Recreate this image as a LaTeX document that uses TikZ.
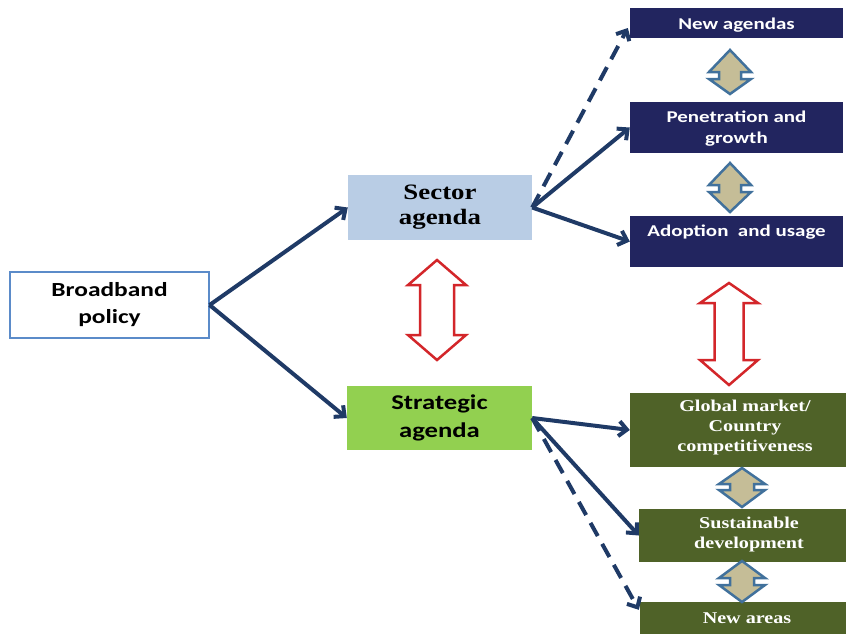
\documentclass[tikz,border=0pt]{standalone}
\usepackage{fontspec}
\usetikzlibrary{arrows.meta,calc}
\newfontfamily\sansf[FakeStretch=1.27]{Carlito}
\newfontfamily\serff[FakeStretch=1.22]{Liberation Serif}
\definecolor{navybox}{HTML}{22255F}
\definecolor{olivebox}{HTML}{4F6228}
\definecolor{sectorfill}{HTML}{B9CDE5}
\definecolor{stratfill}{HTML}{92D050}
\definecolor{connc}{HTML}{1F3A66}
\definecolor{bordblue}{HTML}{5B8BC9}
\definecolor{redarr}{HTML}{D3262A}
\definecolor{tanfill}{HTML}{C5BD97}
\definecolor{tanbord}{HTML}{41719C}
\newcommand\dblarr[8]{%
  \draw[#1] (#2,#3) -- (#2+#7,#4) -- (#2+#8,#4) -- (#2+#8,#5) -- (#2+#7,#5) -- (#2,#6)
    -- (#2-#7,#5) -- (#2-#8,#5) -- (#2-#8,#4) -- (#2-#7,#4) -- cycle;}
\tikzset{
  box/.style={rectangle, inner sep=0pt, align=center},
  navy/.style={box, fill=navybox, minimum width=213pt},
  olive/.style={box, fill=olivebox},
  navytext/.style={align=center, text=white, font=\sansf\bfseries\fontsize{16.5}{21}\selectfont, inner sep=0pt},
  olivetext/.style={align=center, text=white, font=\serff\bfseries\fontsize{16.5}{20}\selectfont, inner sep=0pt},
  conn/.style={draw=connc, line width=4pt, -{Straight Barb[length=8pt,width=15pt]}},
  dconn/.style={conn, dash pattern=on 15pt off 9pt},
  redblock/.style={draw=redarr, line width=2.5pt, fill=white, line join=miter},
  tanblock/.style={draw=tanbord, line width=2.5pt, fill=tanfill, line join=miter},
}
\begin{document}
\begin{tikzpicture}[x=1pt,y=-1pt]
\useasboundingbox (0,0) rectangle (846,633);
\clip (0,0) rectangle (846,633);
% left and middle boxes
\node[box, draw=bordblue, line width=1.2pt, fill=white, minimum width=199pt, minimum height=66pt,
      font=\sansf\bfseries\fontsize{20}{27}\selectfont] (broad) at (109.5,305) {Broadband\\policy};
\node[box, fill=sectorfill, minimum width=184pt, minimum height=65pt,
      font=\serff\bfseries\fontsize{22}{25}\selectfont] (sector) at (440,207.5) {Sector\\agenda};
\node[box, fill=stratfill, minimum width=185pt, minimum height=64pt,
      font=\sansf\bfseries\fontsize{21}{28}\selectfont] (strat) at (439.5,418) {Strategic\\agenda};
% right navy boxes
\node[navy, minimum height=30pt] (newag) at (736.5,23) {};
\node[navytext] (newagT) at (736.5,25) {New agendas};
\node[navy, minimum height=51pt] (pen) at (736.5,127.5) {};
\node[navytext] (penT) at (736.5,129) {Penetration and\\growth};
\node[navy, minimum height=51pt] (adopt) at (736.5,241.5) {};
\node[navytext] (adoptT) at (736.5,232) {Adoption\ \ and usage};
% right olive boxes
\node[olive, minimum width=228pt, minimum height=74pt] (global) at (744,430) {};
\node[olivetext] (globalT) at (745,428) {Global market/\\Country\\competitiveness};
\node[olive, minimum width=219pt, minimum height=53pt] (sust) at (748.5,535.5) {};
\node[olivetext] (sustT) at (749,535) {Sustainable\\development};
\node[olive, minimum width=218pt, minimum height=48pt] (newar) at (749,626) {};
\node[olivetext] (newarT) at (747,618) {New areas};
% block arrows
\dblarr{redblock}{437}{260}{285}{335}{360}{29}{17}
\dblarr{redblock}{729}{283}{303}{360}{385}{29}{14.5}
\dblarr{tanblock}{730}{50}{72}{79}{94}{21}{11}
\dblarr{tanblock}{730}{163}{185}{192}{212}{21}{11}
\dblarr{tanblock}{742}{468}{484}{490}{507}{23}{12}
\dblarr{tanblock}{742}{561}{578}{585}{602}{23}{12}
% connectors
\draw[conn] (broad.east) -- (sector.west);
\draw[conn] (broad.east) -- (strat.west);
\draw[conn] (sector.east) -- (pen.west);
\draw[conn] (sector.east) -- (adopt.west);
\draw[dconn] (sector.east) -- ($(newag.west)+(-2,5)$);
\draw[conn] (strat.east) -- (global.west);
\draw[conn] (strat.east) -- (sust.west);
\draw[dconn] (strat.east) -- ($(newar.north west)+(-1,8)$);
\end{tikzpicture}
\end{document}
